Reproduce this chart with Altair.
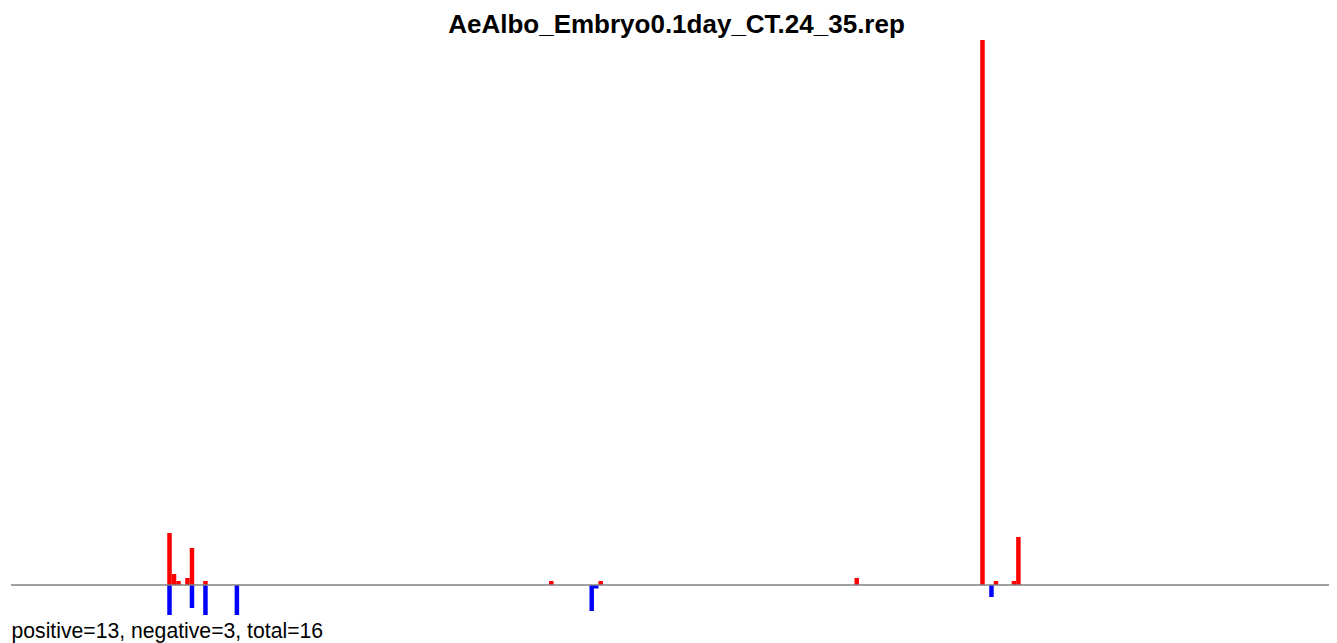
import altair as alt
import pandas as pd

# Data
title_text = "AeAlbo_Embryo0.1day_CT.24_35.rep"
footer_text = "positive=13, negative=3, total=16"

pos_positions = [35, 36, 37, 39, 40, 43, 120, 131, 188, 216, 219, 223, 224]
pos_values = [52, 11, 4, 7, 37, 4, 4, 4, 7, 545, 4, 4, 48]

neg_positions = [35, 40, 43, 50, 129, 130, 218]
neg_values = [-30, -23, -30, -30, -26, -3.5, -12]

x_domain = [-0.29, 293.15]
y_domain = [-30, 545]

df = pd.concat([
    pd.DataFrame({"pos": pos_positions, "value": pos_values, "strand": "positive"}),
    pd.DataFrame({"pos": neg_positions, "value": neg_values, "strand": "negative"}),
], ignore_index=True)

xscale = alt.Scale(domain=x_domain, nice=False, zero=False)
yscale = alt.Scale(domain=y_domain, nice=False, zero=False)

bars = alt.Chart(df).transform_calculate(
    x0="datum.pos - 0.5", x1="datum.pos + 0.5"
).mark_bar(stroke=None).encode(
    x=alt.X("x0:Q", scale=xscale, axis=None),
    x2="x1:Q",
    y=alt.Y("value:Q", scale=yscale, axis=None),
    y2=alt.datum(0),
    color=alt.Color("strand:N",
                    scale=alt.Scale(domain=["positive", "negative"], range=["#ff0000", "#0000ff"]),
                    legend=None),
)

rule = alt.Chart(pd.DataFrame({"y": [0]})).mark_rule(color="#808080", strokeWidth=1.5).encode(
    y=alt.Y("y:Q", scale=yscale, axis=None)
)

title = alt.Chart(pd.DataFrame({"t": [title_text]})).mark_text(
    font="Liberation Sans", fontSize=26, fontWeight="bold", align="center",
    baseline="alphabetic", color="black"
).encode(text="t:N", x=alt.value(665.5), y=alt.value(-7))

footer = alt.Chart(pd.DataFrame({"t": [footer_text]})).mark_text(
    font="Liberation Sans", fontSize=21.2, align="left",
    baseline="alphabetic", color="black"
).encode(text="t:N", x=alt.value(0.5), y=alt.value(598))

chart = alt.layer(bars, rule, title, footer).properties(
    width=1318, height=575,
    padding={"left": 3, "top": 32, "right": 0, "bottom": 28},
    autosize=alt.AutoSizeParams(type="none"),
    background="white",
).configure_view(stroke=None)

chart.save("out.html", embed_options={"renderer": "svg", "actions": False})
